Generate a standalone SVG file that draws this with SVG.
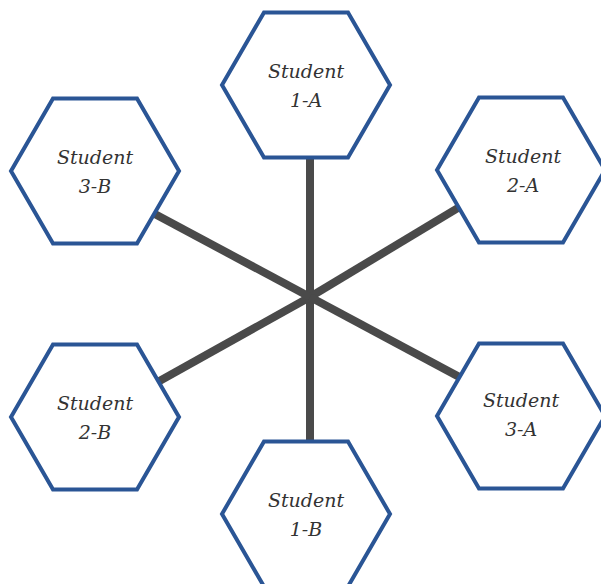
<svg xmlns="http://www.w3.org/2000/svg" width="601" height="584" viewBox="0 0 601 584">
  <style>
    .hex { fill: #ffffff; stroke: #2a5595; stroke-width: 4; stroke-linejoin: miter; }
    .lbl { font-family: "DejaVu Serif", "Liberation Serif", serif; font-style: italic; font-size: 19px; fill: #333333; text-anchor: middle; }
    .spoke { stroke: #4a4a4a; stroke-width: 8; stroke-linecap: butt; }
  </style>
  <defs>
    <polygon id="hexShape" points="-84,0 -42,-72.5 42,-72.5 84,0 42,72.5 -42,72.5"/>
  </defs>
  <rect width="601" height="584" fill="#ffffff"/>

  <!-- spokes radiating from the hub -->
  <g id="connectors">
    <line class="spoke" x1="310" y1="297" x2="310" y2="90"/>
    <line class="spoke" x1="310" y1="297" x2="310" y2="510"/>
    <line class="spoke" x1="310" y1="297" x2="521" y2="170"/>
    <line class="spoke" x1="310" y1="297" x2="95" y2="417"/>
    <line class="spoke" x1="310" y1="297" x2="95" y2="182"/>
    <line class="spoke" x1="310" y1="297" x2="521" y2="410"/>
  </g>

  <g id="student-1A" transform="translate(306,85)">
    <use href="#hexShape" class="hex"/>
    <text class="lbl" x="0" y="-7">Student</text>
    <text class="lbl" x="0" y="22">1-A</text>
  </g>
  <g id="student-2A" transform="translate(521,170)">
    <use href="#hexShape" class="hex"/>
    <text class="lbl" x="2" y="-7">Student</text>
    <text class="lbl" x="2" y="22">2-A</text>
  </g>
  <g id="student-3B" transform="translate(95,171)">
    <use href="#hexShape" class="hex"/>
    <text class="lbl" x="0" y="-7">Student</text>
    <text class="lbl" x="0" y="22">3-B</text>
  </g>
  <g id="student-2B" transform="translate(95,417)">
    <use href="#hexShape" class="hex"/>
    <text class="lbl" x="0" y="-7">Student</text>
    <text class="lbl" x="0" y="22">2-B</text>
  </g>
  <g id="student-3A" transform="translate(521,416)">
    <use href="#hexShape" class="hex"/>
    <text class="lbl" x="0" y="-9">Student</text>
    <text class="lbl" x="0" y="20">3-A</text>
  </g>
  <g id="student-1B" transform="translate(306,514)">
    <use href="#hexShape" class="hex"/>
    <text class="lbl" x="0" y="-7">Student</text>
    <text class="lbl" x="0" y="22">1-B</text>
  </g>
</svg>
